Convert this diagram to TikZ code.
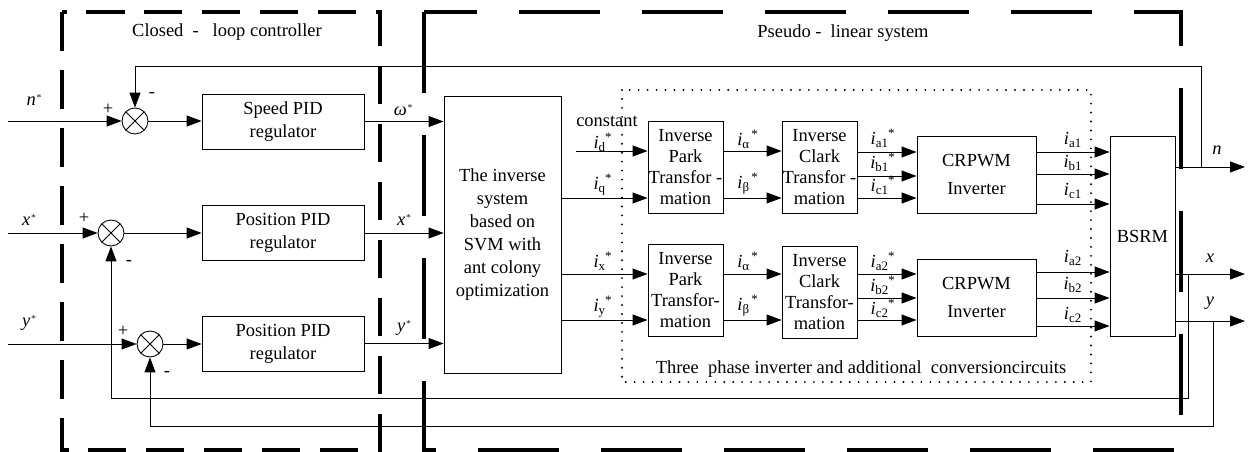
\documentclass[tikz,border=0pt]{standalone}
\usepackage{fontspec}
\setmainfont{Liberation Serif}
\usetikzlibrary{arrows.meta}

% current symbol: italic i with upright index and a mark
\newcommand{\cur}[2]{\textit{i}\textsubscript{#1}\kern-0.5pt\textsuperscript{#2}}
\newcommand{\refmark}{$^{\scriptscriptstyle *}$}

\begin{document}
\begin{tikzpicture}[x=0.02cm,y=-0.02cm,
  font=\fontsize{10.5}{13}\selectfont,
  >={Triangle[length=0.3cm,width=0.22cm]},
  blk/.style={draw,line width=0.5pt,align=center,inner sep=0pt},
  pid/.style={blk,minimum width=3.24cm,minimum height=1.1cm},
  trf/.style={blk,minimum width=1.5cm,minimum height=1.84cm,font=\fontsize{10.5}{12}\selectfont},
  inv/.style={blk,minimum width=2.38cm,minimum height=1.54cm},
  sumnode/.style={draw,circle,minimum size=0.52cm,inner sep=0pt,line width=0.5pt,
    path picture={\draw (path picture bounding box.center) ++(45:0.26cm) -- ++(225:0.52cm)
      (path picture bounding box.center) ++(135:0.26cm) -- ++(-45:0.52cm);}},
  sig/.style={->,line width=0.5pt},
  lab/.style={inner sep=0pt},
  ctrlframe/.style={line width=2pt,dash pattern=on 22pt off 11pt},
  sysframe/.style={line width=2pt,dash pattern=on 46pt off 24pt},
  convframe/.style={line width=1.2pt,dash pattern=on 0pt off 5.1pt,line cap=round}]
  \useasboundingbox (0,0) rectangle (1250,452);

  % controller part
  \node[sumnode] (s1) at (135,121) {};
  \node[sumnode] (s2) at (111,233) {};
  \node[sumnode] (s3) at (150,344) {};
  \node[pid] (spd) at (283,121.5) {Speed PID\\ regulator};
  \node[pid] (posx) at (283,233) {Position PID\\ regulator};
  \node[pid] (posy) at (283,343.5) {Position PID\\ regulator};

  % pseudo-linear system
  \node[blk,minimum width=2.34cm,minimum height=5.54cm] (isys) at (502.5,234.5)
    {The inverse\\ system\\ based on\\ SVM with\\ ant colony\\ optimization};
  \node[trf] (park1) at (685.5,167) {Inverse\\ Park\\ Transfor -\\ mation};
  \node[trf] (park2) at (685.5,290) {Inverse\\ Park\\ Transfor-\\ mation};
  \node[trf] (clark1) at (819.5,167) {Inverse\\ Clark\\ Transfor -\\ mation};
  \node[trf] (clark2) at (819.5,292) {Inverse\\ Clark\\ Transfor-\\ mation};
  \node[inv] (crpwm1) at (976.5,174.5) {CRPWM\\[3pt] Inverter};
  \node[inv] (crpwm2) at (976.5,297.5) {CRPWM\\[3pt] Inverter};
  \node[blk,minimum width=1.3cm,minimum height=4cm] (bsrm) at (1142.5,236) {BSRM};

  % references into the controllers
  \coordinate (nin) at (8,121);
  \coordinate (xin) at (8,233);
  \coordinate (yin) at (8,344);
  \draw[sig] (nin) -- (s1);
  \draw[sig] (xin) -- (s2);
  \draw[sig] (yin) -- (s3);
  \draw[sig] (s1) -- (s1 -| spd.west);
  \draw[sig] (s2) -- (posx);
  \draw[sig] (s3) -- (s3 -| posy.west);
  \draw[sig] (spd.east) -- (spd.east -| isys.west);
  \draw[sig] (posx.east) -- (posx.east -| isys.west);
  \draw[sig] (posy.east) -- (posy.east -| isys.west);

  % current references
  \coordinate (dst) at (576,151);
  \draw[sig] (dst) -- (dst -| park1.west);
  \draw[sig] (isys.east |- 0,198) -- (park1.west |- 0,198);
  \draw[sig] (isys.east |- 0,274) -- (park2.west |- 0,274);
  \draw[sig] (isys.east |- 0,320) -- (park2.west |- 0,320);
  \foreach \y in {151,198}
    \draw[sig] (park1.east |- 0,\y) -- (clark1.west |- 0,\y);
  \foreach \y in {274,320}
    \draw[sig] (park2.east |- 0,\y) -- (clark2.west |- 0,\y);
  \foreach \y in {152,176,198}
    \draw[sig] (clark1.east |- 0,\y) -- (crpwm1.west |- 0,\y);
  \foreach \y in {274,298,320}
    \draw[sig] (clark2.east |- 0,\y) -- (crpwm2.west |- 0,\y);
  \foreach \y in {152,174,204}
    \draw[sig] (crpwm1.east |- 0,\y) -- (bsrm.west |- 0,\y);
  \foreach \y in {272,298,326}
    \draw[sig] (crpwm2.east |- 0,\y) -- (bsrm.west |- 0,\y);

  % outputs and feedback
  \coordinate (nout) at (1245,167);
  \coordinate (xout) at (1245,274);
  \coordinate (yout) at (1245,321);
  \draw[sig] (bsrm.east |- nout) -- (nout);
  \draw[sig] (bsrm.east |- xout) -- (xout);
  \draw[sig] (bsrm.east |- yout) -- (yout);
  \coordinate (nfb) at (1201,167);
  \coordinate (xfb) at (1188,274);
  \coordinate (yfb) at (1213,321);
  \draw[sig] (nfb) -- (nfb |- 0,66) -| (s1.north);
  \draw[sig] (xfb) -- (xfb |- 0,398) -| (s2.south);
  \draw[sig] (yfb) -- (yfb |- 0,426) -| (s3.south);

  % signs
  \node[lab] (p1) at (108,109) {+};
  \node[lab] (m1) at (152,95) {-};
  \node[lab] (p2) at (84,218) {+};
  \node[lab] (m2) at (129,263) {-};
  \node[lab] (p3) at (123,331) {+};
  \node[lab] (m3) at (167,374) {-};

  % signal names
  \node[lab] (nref) at (35,100) {\textit{n}\refmark};
  \node[lab] (xref) at (30,220) {\textit{x}\refmark};
  \node[lab] (yref) at (30,323) {\textit{y}\refmark};
  \node[lab] (wcmd) at (404,110) {\textit{ω}\refmark};
  \node[lab] (xcmd) at (405,220) {\textit{x}\refmark};
  \node[lab] (ycmd) at (405,328) {\textit{y}\refmark};
  \node[lab] (const) at (607,121) {constant};
  \foreach \y/\t [count=\k] in {142/d,185/q,261/x,307/y}
    \node[lab] (idq\k) at (603,\y) {\cur{\t}{*}};
  \foreach \y/\t [count=\k] in {139/α,184/β,261/α,306/β}
    \node[lab] (iab\k) at (748,\y) {\cur{\t}{\,*}};
  \foreach \y/\t [count=\k] in {138/a1,162/b1,185/c1,261/a2,285/b2,308/c2}
    \node[lab] (iref\k) at (883,\y) {\cur{\t}{*}};
  \foreach \y/\t [count=\k] in {140/a1,163/b1,191/c1,258/a2,285/b2,315/c2}
    \node[lab] (iph\k) at (1073,\y) {\cur{\t}{}};
  \node[lab] (nlab) at (1217,150) {\textit{n}};
  \node[lab] (xlab) at (1210,258) {\textit{x}};
  \node[lab] (ylab) at (1210,303) {\textit{y}};

  % frames
  \draw[convframe] (622,90) rectangle (1091,382);
  \draw[ctrlframe] (62,12) rectangle (380,450);
  \draw[sysframe] (424,12) rectangle (1181,450);
  \node[lab] (ctrltitle) at (227,32) {Closed\ \ -\ \ \ loop controller};
  \node[lab] (systitle) at (843,33) {Pseudo\ -\ \ linear system};
  \node[lab] (convtitle) at (861,369) {Three\ \ phase inverter and additional\ \ conversioncircuits};
\end{tikzpicture}
\end{document}
